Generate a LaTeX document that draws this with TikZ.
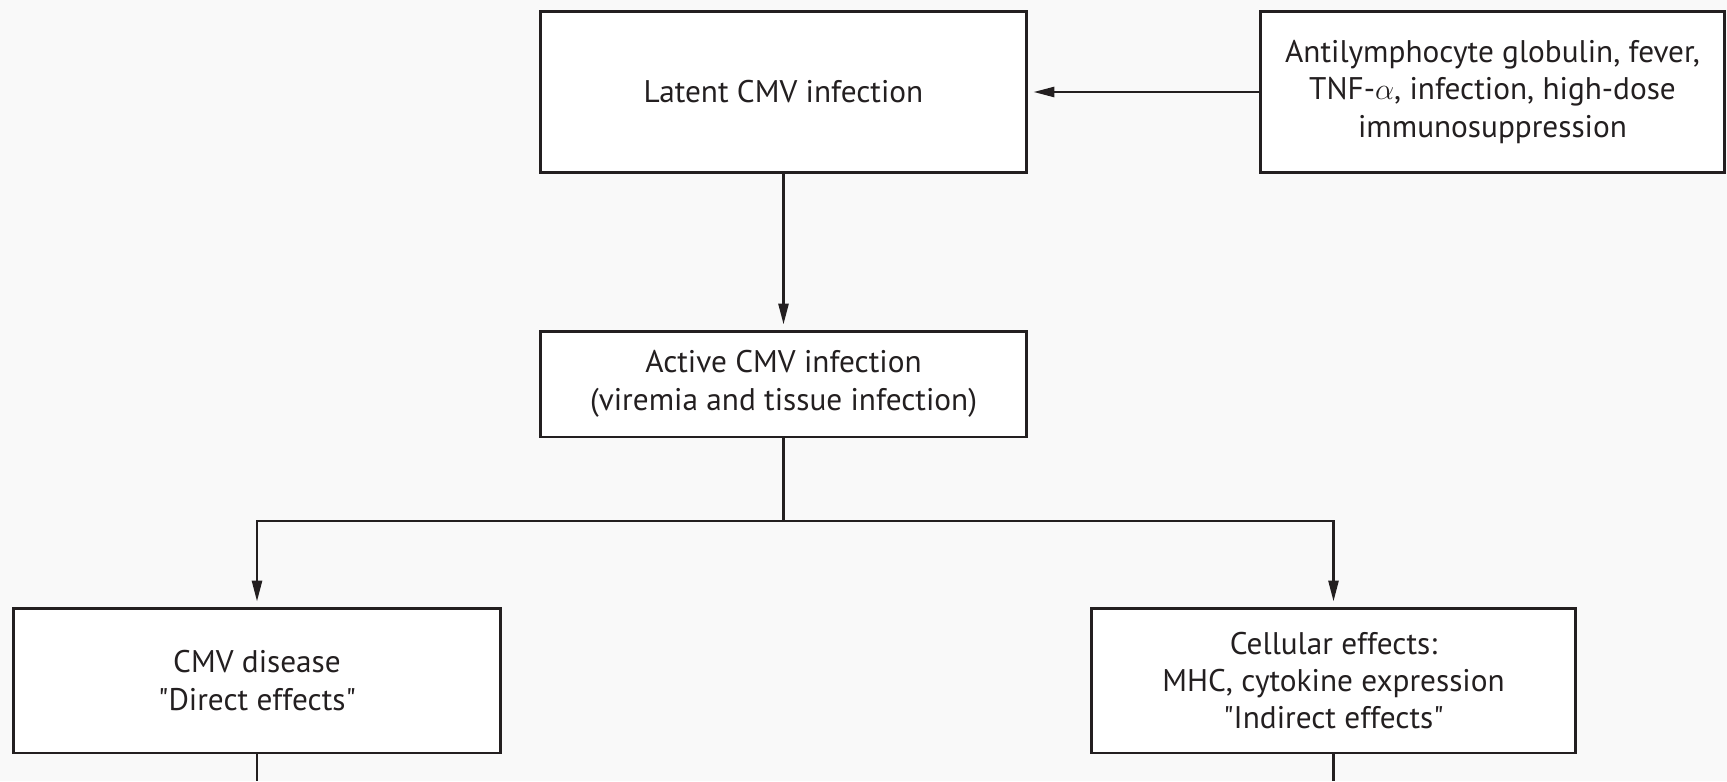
\documentclass[tikz,border=0pt]{standalone}
\usepackage{fontspec}
\setmainfont{PT Sans}
\usetikzlibrary{arrows.meta}
\definecolor{bg}{HTML}{F9F9F9}
\definecolor{ink}{HTML}{231F20}
\begin{document}
\begin{tikzpicture}[x=0.02cm,y=-0.02cm,
  box/.style={draw=ink,fill=white,line width=1.7pt,rectangle,align=center,
    text=ink,font=\fontsize{17.8}{21.3}\selectfont,inner sep=0pt},
  conn/.style={draw=ink,line width=1.5pt},
  arr/.style={conn,-{Triangle[length=0.42cm,width=0.2cm]},shorten >=0.1cm}]
\fill[bg] (0,0) rectangle (1727,781);
\useasboundingbox (0,0) rectangle (1727,781);
\node[box,minimum width=9.74cm,minimum height=3.24cm] (latent) at (783.5,92) {Latent CMV infection};
\node[box,minimum width=9.3cm,minimum height=3.24cm] (trig) at (1492.5,92) {Antilymphocyte globulin, fever,\\TNF-$\alpha$, infection, high-dose\\immunosuppression};
\node[box,minimum width=9.74cm,minimum height=2.12cm] (active) at (783.5,384) {Active CMV infection\\(viremia and tissue infection)};
\node[box,minimum width=9.76cm,minimum height=2.9cm] (direct) at (257,680.5) {CMV disease\\\textquotedbl Direct effects\textquotedbl};
\node[box,minimum width=9.68cm,minimum height=2.9cm] (indirect) at (1333.5,680.5) {Cellular effects:\\MHC, cytokine expression\\\textquotedbl Indirect effects\textquotedbl};
\coordinate (split) at (783.5,521);
\coordinate (dout) at (257,781);
\coordinate (iout) at (1333.5,781);
\draw[arr] (trig.west) -- (latent.east);
\draw[arr] (latent.south) -- (active.north);
\draw[conn] (active.south) -- (split);
\draw[arr] (split) -| (direct.north);
\draw[arr] (split) -| (indirect.north);
\draw[conn] (direct.south) -- (dout);
\draw[conn] (indirect.south) -- (iout);
\end{tikzpicture}
\end{document}
